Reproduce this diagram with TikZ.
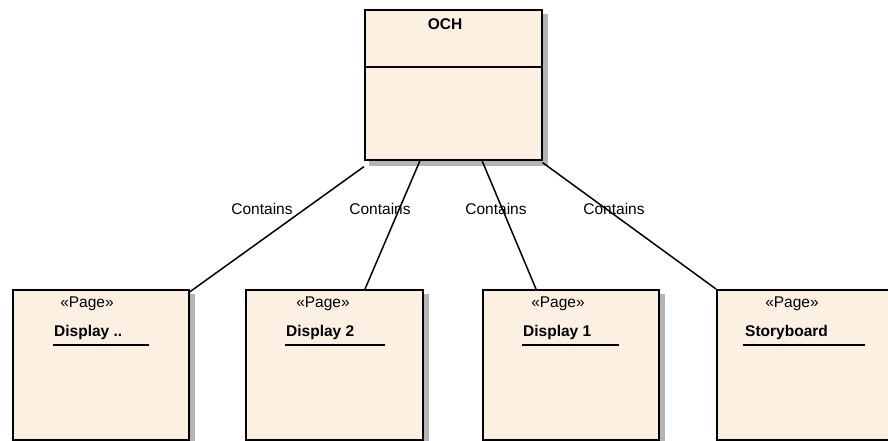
\documentclass[tikz,border=0pt]{standalone}
\usepackage{fontspec}
\setmainfont{Liberation Sans}
\usetikzlibrary{calc,backgrounds}
\definecolor{boxfill}{RGB}{251,240,226}
\definecolor{shadowgray}{RGB}{180,180,180}
\begin{document}
\begin{tikzpicture}[x=1pt,y=-1pt,
  umlbox/.style={draw=black, line width=1.6pt, fill=boxfill, anchor=north west,
    minimum width=176pt, minimum height=150pt, inner sep=0pt},
  shadowbox/.style={fill=shadowgray},
  conn/.style={draw=black, line width=1.5pt},
  lbl/.style={font=\fontsize{15.5}{18}\selectfont, inner sep=0pt},
  stereo/.style={font=\fontsize{15.5}{18}\selectfont, inner sep=0pt},
  pname/.style={font=\fontsize{15.5}{18}\selectfont\bfseries, inner sep=0pt, anchor=west},
  uline/.style={draw=black, line width=1.6pt}
]
\useasboundingbox (0,0) rectangle (888,441);
\clip (0,0) rectangle (888,441);

% OCH class
\node[umlbox, minimum width=177pt, minimum height=150pt] (och) at (364,9) {};
\draw[line width=1.6pt] (364,67) coordinate (sepl) -- (541,67) coordinate (sepr);
\node[font=\fontsize{15.5}{18}\selectfont\bfseries, inner sep=0pt] (ochname) at (445,24) {OCH};

% Page boxes
\node[umlbox] (p1) at (12,289) {};
\node[umlbox, minimum width=177pt] (p2) at (245,289) {};
\node[umlbox] (p3) at (482,289) {};
\node[umlbox] (p4) at (716,289) {};

\begin{scope}[on background layer]
  \foreach \b in {och,p1,p2,p3,p4}{
    \fill[shadowbox] ($(\b.north east)+(0,5)$) rectangle ($(\b.south east)+(5,5)$);
    \fill[shadowbox] ($(\b.south west)+(5,0)$) rectangle ($(\b.south east)+(5,5)$);
  }
\end{scope}

\node[stereo] (s1) at (87,304) {«Page»};
\node[pname] (n1) at (54,332) {Display ..};
\draw[uline] (53,345) coordinate (u1a) -- (149,345) coordinate (u1b);

\node[stereo] (s2) at (323,304) {«Page»};
\node[pname] (n2) at (286,332) {Display 2};
\draw[uline] (285,345) coordinate (u2a) -- (385,345) coordinate (u2b);

\node[stereo] (s3) at (558,304) {«Page»};
\node[pname] (n3) at (523,332) {Display 1};
\draw[uline] (522,345) coordinate (u3a) -- (619,345) coordinate (u3b);

\node[stereo] (s4) at (792,304) {«Page»};
\node[pname] (n4) at (745,332) {Storyboard};
\draw[uline] (743,345) coordinate (u4a) -- (865,345) coordinate (u4b);

% Connectors
\draw[conn] ([yshift=-6pt]och.south west) -- ([yshift=-3pt]p1.north east);
\draw[conn] ([xshift=56pt]och.south west) -- ([xshift=120pt]p2.north west);
\draw[conn] ([xshift=118pt]och.south west) -- ([xshift=54pt]p3.north west);
\draw[conn] ([yshift=-2pt]och.south east) -- ([yshift=0pt]p4.north west);

% Labels
\node[lbl] (c1) at (262,209) {Contains};
\node[lbl] (c2) at (380,209) {Contains};
\node[lbl] (c3) at (496,209) {Contains};
\node[lbl] (c4) at (614,209) {Contains};
\end{tikzpicture}
\end{document}
